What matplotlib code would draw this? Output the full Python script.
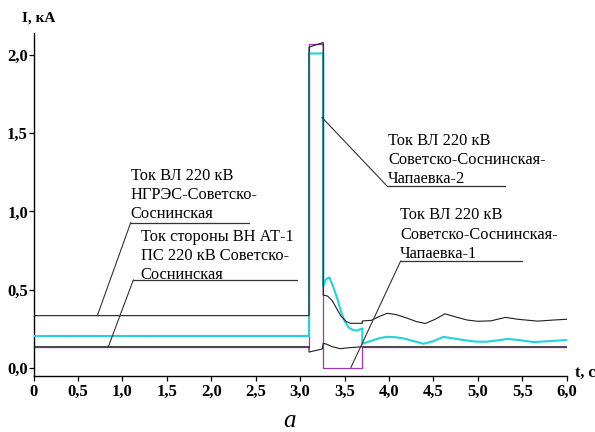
import matplotlib
matplotlib.use("Agg")
import matplotlib.pyplot as plt

# --- data -----------------------------------------------------------------
# Current of line 220 kV NGRES - Sovetsko-Sosninskaya
t_ngres = [0.0, 3.10, 3.10, 3.15, 3.26, 3.26, 3.31, 3.36, 3.41, 3.46, 3.52, 3.57,
           3.70, 3.70, 3.80, 3.90, 3.98, 4.08, 4.20, 4.31, 4.41, 4.52, 4.63, 4.75,
           4.88, 5.00, 5.15, 5.31, 5.45, 5.67, 5.85, 6.0]
i_ngres = [0.333, 0.333, 2.05, 2.06, 2.08, 0.465, 0.458, 0.43, 0.38, 0.33, 0.295, 0.284,
           0.284, 0.299, 0.303, 0.33, 0.348, 0.34, 0.318, 0.295, 0.283, 0.31, 0.345, 0.325,
           0.305, 0.297, 0.30, 0.322, 0.31, 0.298, 0.305, 0.31]

# Current of line 220 kV Sovetsko-Sosninskaya - Chapaevka-2
t_ch2 = [0.0, 3.10, 3.10, 3.26, 3.26, 3.29, 3.33, 3.37, 3.42, 3.46, 3.50, 3.55, 3.60,
         3.64, 3.70, 3.70, 3.76, 3.83, 3.90, 3.98, 4.07, 4.16, 4.28, 4.39, 4.50, 4.61,
         4.72, 4.84, 4.98, 5.10, 5.22, 5.33, 5.45, 5.63, 5.80, 6.0]
i_ch2 = [0.203, 0.203, 2.01, 2.01, 0.52, 0.565, 0.578, 0.52, 0.44, 0.36, 0.30, 0.255, 0.24,
         0.237, 0.252, 0.152, 0.165, 0.177, 0.19, 0.198, 0.195, 0.188, 0.17, 0.153, 0.17, 0.197,
         0.188, 0.177, 0.167, 0.166, 0.175, 0.184, 0.178, 0.164, 0.17, 0.177]

# Current of line 220 kV Sovetsko-Sosninskaya - Chapaevka-1
t_ch1 = [0.0, 3.10, 3.10, 3.26, 3.26, 3.70, 3.70, 6.0]
i_ch1 = [0.134, 0.134, 2.07, 2.07, 0.0, 0.0, 0.134, 0.134]

# HV side current of autotransformer AT-1
t_at1 = [0.0, 3.10, 3.10, 3.25, 3.26, 3.30, 3.36, 3.45, 3.55, 3.70, 6.0]
i_at1 = [0.134, 0.134, 0.10, 0.12, 0.157, 0.15, 0.135, 0.122, 0.128, 0.134, 0.134]

x_ticks = [0.0, 0.5, 1.0, 1.5, 2.0, 2.5, 3.0, 3.5, 4.0, 4.5, 5.0, 5.5, 6.0]
x_labels = ["0", "0,5", "1,0", "1,5", "2,0", "2,5", "3,0", "3,5", "4,0", "4,5",
            "5,0", "5,5", "6,0"]
y_ticks = [0.0, 0.5, 1.0, 1.5, 2.0]
y_labels = ["0,0", "0,5", "1,0", "1,5", "2,0"]

SERIF = "Liberation Serif"
plt.rcParams["font.family"] = [SERIF, "DejaVu Serif"]

fig = plt.figure(figsize=(5.95, 4.32), dpi=100)
ax = fig.add_axes([33.5 / 595, (432 - 375.7) / 432, 533.2 / 595, 342.7 / 432])
ax.set_xlim(0, 6.0)
ax.set_ylim(-0.051, 2.141)

CYAN = "#22d3d8"
PURPLE = "#a035b8"
DARK = "#1e1e1e"

ax.plot(t_ch1, i_ch1, color=PURPLE, lw=0.9, zorder=2)
ax.plot(t_at1, i_at1, color=DARK, lw=0.8, zorder=3)
ax.plot(t_ch2, i_ch2, color=CYAN, lw=1.5, zorder=4)
ax.plot(t_ngres, i_ngres, color=DARK, lw=0.8, zorder=5)

for side in ("top", "right"):
    ax.spines[side].set_visible(False)
for side in ("left", "bottom"):
    ax.spines[side].set_linewidth(1.0)
    ax.spines[side].set_color("black")

ax.set_xticks(x_ticks)
ax.set_xticklabels(x_labels, fontweight="bold")
ax.set_yticks(y_ticks)
ax.set_yticklabels(y_labels, fontweight="bold")
ax.tick_params(axis="both", direction="out", length=3.5, width=0.9, labelsize=12)
ax.tick_params(axis="y", pad=0.5)
ax.tick_params(axis="x", pad=2.5)

# axis titles
fig.text(22 / 595, 1 - 22 / 432, "I, кА", fontsize=11, fontweight="bold",
         ha="left", va="baseline")
fig.text(575 / 595, 1 - 377 / 432, "t, c", fontsize=11.5, fontweight="bold",
         ha="left", va="baseline")
fig.text(290 / 595, 1 - 427 / 432, "а", fontsize=18, style="italic",
         ha="center", va="baseline")

# callouts: text lines, underline and leader
LEADER = "#333333"
callouts = [
    (["Ток ВЛ 220 кВ", "НГРЭС-Советско-", "Соснинская"],
     1.094, [1.200, 1.077, 0.956], (1.094, 2.428, 0.928), (0.718, 0.333)),
    (["Ток стороны ВН АТ-1", "ПС 220 кВ Советско-", "Соснинская"],
     1.206, [0.813, 0.689, 0.567], (1.123, 2.968, 0.561), (0.842, 0.134)),
    (["Ток ВЛ 220 кВ", "Советско-Соснинская-", "Чапаевка-2"],
     3.992, [1.425, 1.301, 1.180], (3.975, 5.306, 1.164), (3.246, 1.601)),
    (["Ток ВЛ 220 кВ", "Советско-Соснинская-", "Чапаевка-1"],
     4.124, [0.949, 0.825, 0.704], (4.132, 5.500, 0.683), (3.573, 0.003)),
]
for lines, tx, baselines, (ux0, ux1, uy), (lx, ly) in callouts:
    for line, by in zip(lines, baselines):
        ax.text(tx, by, line, fontsize=11.8, ha="left", va="baseline", zorder=6)
    ax.plot([ux0, ux1], [uy, uy], color=LEADER, lw=0.9, zorder=6, clip_on=False)
    ax.plot([ux0, lx], [uy, ly], color=LEADER, lw=0.8, zorder=6, clip_on=False)

fig.savefig("out.png", dpi=100)
